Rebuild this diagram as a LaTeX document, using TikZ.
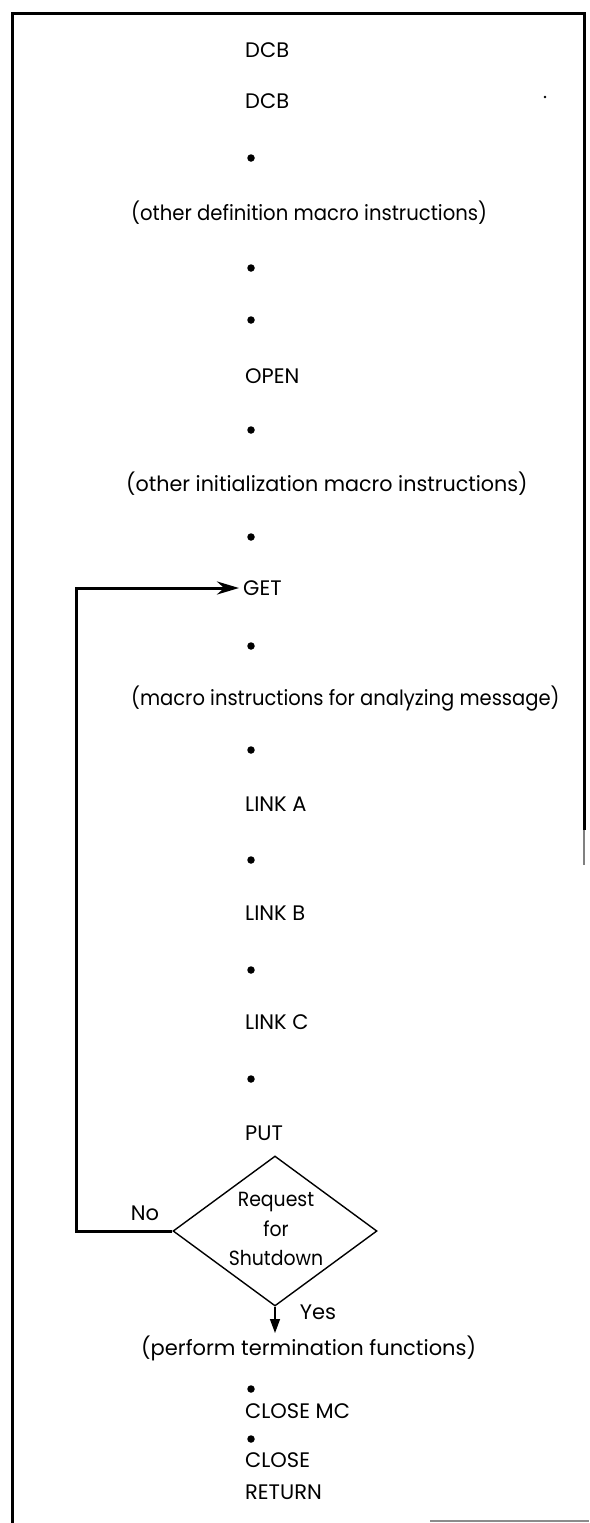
\documentclass[tikz,border=0pt]{standalone}
\usepackage{fontspec}
\setmainfont{Poppins}
\usetikzlibrary{shapes.geometric,arrows.meta}
\newcommand{\nrw}[1]{\scalebox{0.92}[1]{#1}}
\tikzset{
  txt/.style={anchor=west,inner sep=0pt,font=\fontsize{21}{24}\selectfont},
  para/.style={anchor=west,inner sep=0pt,font=\fontsize{21}{24}\selectfont},
  bullet/.style={circle,fill=black,inner sep=0pt,minimum size=7.5pt},
  decision/.style={shape=diamond,draw,line width=1.4pt,minimum width=204pt,minimum height=150pt,inner sep=0pt},
  dtext/.style={inner sep=0pt,align=center,font=\fontsize{20.5}{29.5}\selectfont},
  loopline/.style={line width=3pt,-{Stealth[length=22pt,width=13pt]}},
  yesline/.style={line width=1.4pt,-{Triangle[length=14pt,width=10pt]}},
  frame/.style={line width=3pt},
  lbl/.style={inner sep=0pt,font=\fontsize{21}{24}\selectfont}
}
\begin{document}
\begin{tikzpicture}[x=1pt,y=-1pt]
\useasboundingbox (0,0) rectangle (589,1523);
% frame
\draw[frame] (12,1523) -- (12,13) -- (584,13) -- (584,830);
\draw[line width=2pt,black!50] (584,830) -- (584,865);
\draw[line width=2pt,black!45] (430,1521) -- (589,1521);
\fill (545,97) circle (1.3pt);
% column
\node[txt] (dcb1) at (245,50) {DCB};
\node[txt] (dcb2) at (245,101) {DCB};
\node[bullet] (b1) at (251,158) {};
\node[para] (odef) at (131,213) {\scalebox{0.935}[1]{(other definition macro instructions)}};
\node[bullet] (b2) at (251,268) {};
\node[bullet] (b3) at (251,320) {};
\node[txt] (open) at (245,376) {OPEN};
\node[bullet] (b4) at (251,430) {};
\node[para] (oinit) at (126,484) {\scalebox{0.985}[1]{(other initialization macro instructions)}};
\node[bullet] (b5) at (251,537) {};
\node[txt] (get) at (243,588) {GET};
\node[bullet] (b6) at (251,646) {};
\node[para] (anal) at (131,699) {\scalebox{0.93}[1]{(macro instructions for analyzing message)}};
\node[bullet] (b7) at (251,750) {};
\node[txt] (linka) at (245,804) {LINK A};
\node[bullet] (b8) at (251,860) {};
\node[txt] (linkb) at (245,913) {LINK B};
\node[bullet] (b9) at (251,970) {};
\node[txt] (linkc) at (245,1022) {LINK C};
\node[bullet] (b10) at (251,1079) {};
\node[txt] (put) at (245,1133) {PUT};
\node[decision] (dia) at (275,1231) {};
\node[dtext] (dtx) at (276,1229) {\nrw{Request}\\\nrw{for}\\\nrw{Shutdown}};
\node[lbl] (no) at (145,1213) {No};
\node[lbl] (yes) at (318,1312) {Yes};
\coordinate (yesend) at (275,1333);
\node[para] (perf) at (141,1348) {(perform termination functions)};
\node[bullet] (b11) at (251,1389) {};
\node[txt] (closemc) at (245,1411) {CLOSE MC};
\node[bullet] (b12) at (251,1439) {};
\node[txt] (close) at (245,1460) {CLOSE};
\node[txt] (ret) at (245,1492) {RETURN};
% connectors
\coordinate (c1) at (76,1231);
\coordinate (c2) at (76,588);
\draw[loopline] (dia.west) -- (c1) -- (c2) -- ([xshift=-4pt]get.west);
\draw[yesline] (dia.south) -- (yesend);
\end{tikzpicture}
\end{document}
